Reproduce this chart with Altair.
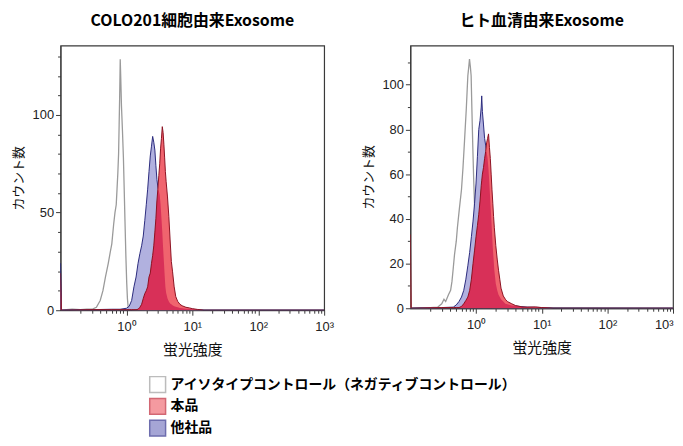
import altair as alt
import numpy as np
import pandas as pd

TITLES = ["COLO201細胞由来Exosome", "ヒト血清由来Exosome"]
X_TITLE = "蛍光強度"
Y_TITLE = "カウント数"
LEGEND_LABELS = ["アイソタイプコントロール（ネガティブコントロール）", "本品", "他社品"]

# x ticks (log scale)
X_MAJOR = [1, 10, 100, 1000]
X_MAJOR_LABELS = ["10⁰", "10¹", "10²", "10³"]
X_MINOR_MULT = [2, 3, 4, 5, 6, 7, 8, 9]
X_DECADES = [0.1, 1, 10, 100]

# ---- Left panel: COLO201 cell exosome ----
L_x = [0.1, 0.103, 0.3, 0.6, 0.8, 1.0, 1.1, 1.2, 1.3, 1.4, 1.5, 1.6, 1.7, 1.8, 1.9, 2.0,
       2.1, 2.2, 2.3, 2.4, 2.5, 2.6, 2.7, 2.8, 2.9, 3.0, 3.1, 3.2, 3.3, 3.4, 3.5, 3.6, 3.7,
       3.8, 3.9, 4.0, 4.2, 4.4, 4.6, 4.8, 5.0, 5.3, 5.6, 6.0, 6.5, 7, 8, 9, 10, 12, 15, 1000]
L_other = [24, 0, 0.3, 0.5, 0.5, 1, 2, 5, 12, 17, 24, 29, 33, 38, 46, 54,
           62, 71, 79, 84, 89, 86, 82, 74, 67, 63, 61, 59, 54, 47, 40, 32, 25,
           18, 12, 9, 6, 4.5, 3.5, 3, 2.5, 2, 1.8, 1.5, 1.2, 1, 0.8, 0.6, 0.5, 0.3, 0, 0]
L_ours = [19, 0, 0.3, 0.3, 0.3, 0.3, 0.3, 0.3, 0.3, 0.3, 0.5, 1.5, 3, 6, 8.5, 10,
          12, 17, 19, 24, 28, 33, 40, 47, 56, 62, 69, 75, 83, 88, 94, 91, 85,
          78, 71, 66, 58, 48, 36, 25, 20, 12, 7, 4.5, 3, 2.3, 1.5, 1.2, 0.8, 0.4, 0, 0]
L_iso_x = [0.1, 0.15, 0.2, 0.25, 0.3, 0.35, 0.4, 0.44, 0.48, 0.53, 0.57, 0.6, 0.64, 0.67,
           0.7, 0.72, 0.74, 0.76, 0.775, 0.79, 0.805, 0.82, 0.84, 0.87, 0.9, 0.925, 0.95,
           0.98, 1.01, 1.035, 1.06, 1.1, 1.3, 2.0, 1000]
L_iso = [0, 0.5, 0.3, 0.5, 0.5, 1.5, 5, 10, 17, 24, 30, 34, 44, 50,
         54, 62, 70, 80, 95, 110, 128.5, 119, 105, 92, 78, 62, 46,
         28, 14, 6, 2, 0.5, 0.3, 0, 0]

# ---- Right panel: human serum exosome ----
R_x = [0.1, 0.103, 0.3, 0.45, 0.5, 0.55, 0.6, 0.65, 0.7, 0.75, 0.8, 0.85, 0.9, 0.95, 1.0,
       1.05, 1.1, 1.15, 1.2, 1.22, 1.25, 1.3, 1.35, 1.4, 1.45, 1.5, 1.55, 1.6, 1.65, 1.7,
       1.75, 1.8, 1.85, 1.9, 2.0, 2.1, 2.2, 2.3, 2.4, 2.6, 2.8, 3.0, 3.5, 4, 5, 6, 8, 10, 15, 1000]
R_other = [0, 0, 0.3, 0.5, 1.5, 3, 5, 8, 13, 19, 25, 32, 39, 47, 56,
           68, 80, 84, 90, 95, 88, 82, 76, 73, 70, 67, 62, 55, 48, 41,
           34, 27, 22, 17, 11, 8, 6, 5, 4, 3, 2, 1.8, 1.2, 1, 0.7, 0.5, 0.4, 0.3, 0, 0]
R_ours = [33, 0, 0.3, 0.3, 0.3, 0.3, 0.8, 2, 3.5, 5, 8, 13, 20, 26, 32,
          37, 42, 48, 55, 57, 60, 63, 67, 70, 74, 76, 78, 72, 67, 60,
          53, 47, 41, 36, 28, 22, 17, 13, 9, 5.5, 4, 3, 2, 1.2, 0.6, 0.5, 0.6, 0.3, 0, 0]
R_iso_x = [0.1, 0.2, 0.26, 0.3, 0.325, 0.345, 0.38, 0.41, 0.43, 0.45, 0.47, 0.5, 0.52, 0.555,
           0.6, 0.633, 0.668, 0.71, 0.75, 0.775, 0.795, 0.82, 0.842, 0.863, 0.893, 0.92, 0.95,
           1.0, 1.06, 1.12, 1.22, 1.3, 2.0, 1000]
R_iso = [0, 0.3, 0.5, 2, 4, 3, 6, 8, 12, 18, 24, 30, 36, 44,
         53, 63, 75, 89, 104, 108, 111.5, 108, 104, 90, 72, 58, 46,
         32, 16, 6, 1.2, 0.5, 0.3, 0]

JP = "Noto Sans CJK JP"
LAT = "Liberation Sans"

x_ticks = [m * d for d in X_DECADES for m in X_MINOR_MULT] + X_MAJOR
x_test = " || ".join(f"datum.value == {v}" for v in X_MAJOR)
x_expr = "".join(f"datum.value == {v} ? '{l}' : " for v, l in zip(X_MAJOR, X_MAJOR_LABELS)) + "''"


def panel(title, ix, iy, x, other, ours, ymax, ymajor, w, h, legend, flush):
    df = pd.DataFrame({"x": x, "other": other, "ours": ours})
    df["both"] = np.minimum(df["other"], df["ours"])
    gdf = pd.DataFrame({"x": ix, "count": iy})
    xsc = alt.Scale(type="log", domain=[0.1, 1000], nice=False)
    ysc = alt.Scale(domain=[0, ymax], nice=False, zero=True)
    y_test = f"datum.value % {ymajor} == 0"
    xax = alt.Axis(title=X_TITLE, values=x_ticks, labelExpr=x_expr, labelFlush=flush,
                   labelOverlap=False, tickSize={"condition": {"test": x_test, "value": 5}, "value": 3},
                   titleFontSize=15, labelFontSize=13, labelPadding=5, titlePadding=10)
    yax = alt.Axis(title=Y_TITLE, values=list(range(0, int(ymax) + 1, 10)),
                   labelExpr=f"{y_test} ? datum.label : ''", labelOverlap=False,
                   tickSize={"condition": {"test": y_test, "value": 5}, "value": 3},
                   titleFontSize=13, labelFontSize=13, labelPadding=2, titlePadding=7)
    X = alt.X("x:Q", scale=xsc, axis=xax)

    iso = alt.Chart(gdf).mark_line(color="#9a9a9a", strokeWidth=1.3, clip=True).encode(
        x=X, y=alt.Y("count:Q", scale=ysc, axis=yax))
    oth = alt.Chart(df).mark_area(fill="#aaaadc", fillOpacity=0.92, stroke="#2a2a7c",
                                  strokeWidth=1, clip=True).encode(
        x=X, y=alt.Y("other:Q", scale=ysc, axis=yax))
    our = alt.Chart(df).mark_area(fill="#f0646e", clip=True).encode(
        x=X, y=alt.Y("ours:Q", scale=ysc, axis=yax))
    both = alt.Chart(df).mark_area(fill="#d83058", clip=True).encode(
        x=X, y=alt.Y("both:Q", scale=ysc, axis=yax))
    our_line = alt.Chart(df).mark_line(color="#8c1222", strokeWidth=1, clip=True).encode(
        x=X, y=alt.Y("ours:Q", scale=ysc, axis=yax))
    layers = [iso, oth, our, both, our_line]
    if legend:
        leg_props = dict(title=None, orient="none", legendX=89, legendY=333, symbolType="square",
                         symbolSize=256, symbolStrokeWidth=1.5, labelFont=JP, labelFontSize=14,
                         labelFontWeight="bold", labelColor="#000", rowPadding=0, labelOffset=4,
                         padding=0, labelLimit=0, direction="vertical")
        ldf = pd.DataFrame({"s": LEGEND_LABELS})
        leg = alt.Chart(ldf).transform_filter("false").mark_point(shape="square", filled=True).encode(
            fill=alt.Fill("s:N", scale=alt.Scale(domain=LEGEND_LABELS,
                                                 range=["#ffffff", "#f07078", "#8080c4"]),
                          legend=alt.Legend(**leg_props)),
            stroke=alt.Stroke("s:N", scale=alt.Scale(domain=LEGEND_LABELS,
                                                     range=["#a0a0a0", "#c02838", "#30308c"]),
                              legend=alt.Legend(**leg_props)))
        layers.append(leg)
    return alt.layer(*layers).properties(
        width=w, height=h,
        title=alt.TitleParams(title, font=JP, fontSize=16, fontWeight="bold", anchor="middle",
                              frame="group", offset=16.5, color="#000"))


left = panel(TITLES[0], L_iso_x, L_iso, L_x, L_other, L_ours, 135.5, 50, 266, 267, True, False)
right = panel(TITLES[1], R_iso_x, R_iso, R_x, R_other, R_ours, 117.5, 20, 265, 265, False, True)

chart = alt.hconcat(left, right, spacing=27).properties(
    padding={"left": 3, "top": 2, "right": 0, "bottom": 0}
).configure_view(
    stroke="#3a3a3a", strokeWidth=1.2
).configure_axis(
    grid=False, domainColor="#3a3a3a", tickColor="#3a3a3a", labelColor="#222",
    labelFont=LAT, titleFont=JP, titleFontWeight="normal", titleColor="#111"
)

chart.save("out.html", embed_options={"renderer": "svg", "actions": False})
